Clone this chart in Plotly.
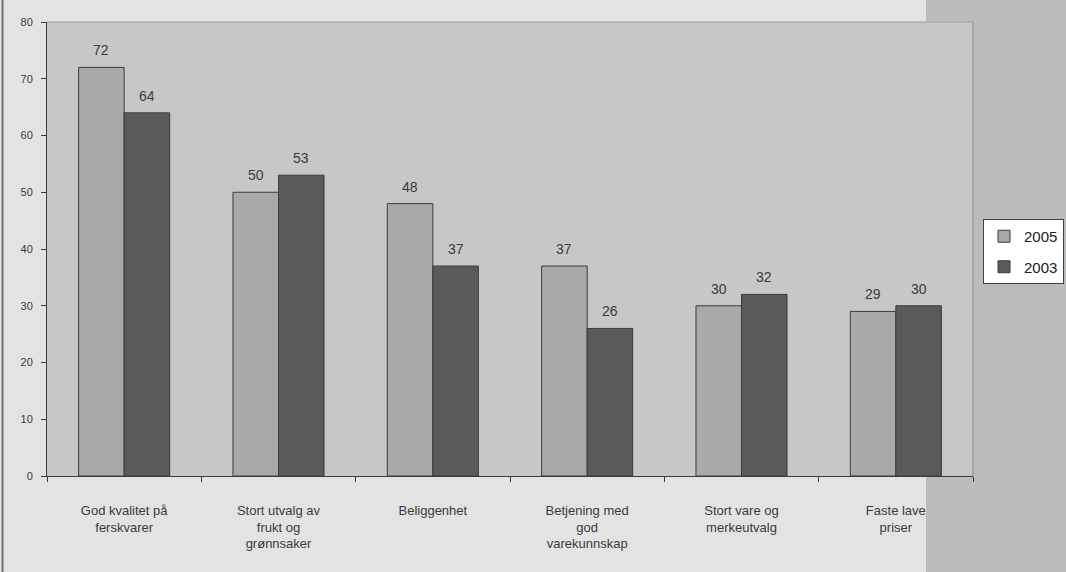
import plotly.graph_objects as go

categories = [
    "God kvalitet på<br>ferskvarer",
    "Stort utvalg av<br>frukt og<br>grønnsaker",
    "Beliggenhet",
    "Betjening med<br>god<br>varekunnskap",
    "Stort vare og<br>merkeutvalg",
    "Faste lave<br>priser",
]
values_2005 = [72, 50, 48, 37, 30, 29]
values_2003 = [64, 53, 37, 26, 32, 30]
series_names = ["2005", "2003"]
y_ticks = [0, 10, 20, 30, 40, 50, 60, 70, 80]

W, H = 1066, 572
L, R, T, B = 47, 93, 22, 96
pw, ph = W - L - R, H - T - B

fig = go.Figure()
fig.add_trace(go.Bar(
    x=categories, y=values_2005, name=series_names[0], legendgroup="a",
    marker=dict(color="#a9a9a9", line=dict(color="#3c3c3c", width=1)),
))
fig.add_trace(go.Bar(
    x=categories, y=values_2003, name=series_names[1], legendgroup="b",
    marker=dict(color="#5a5a5a", line=dict(color="#3c3c3c", width=1)),
))

annotations = []
for vals, shift in ((values_2005, -22.8), (values_2003, 22.8)):
    for c, v in zip(categories, vals):
        annotations.append(dict(
            x=c, y=v, text=str(v), showarrow=False, xref="x", yref="y",
            xanchor="center", yanchor="bottom", xshift=shift, yshift=7,
            font=dict(size=14, color="#3a3a3a"),
        ))

def px_x(p):
    return (p - L) / pw

def px_y(p):
    return (H - B - p) / ph

shapes = [
    dict(type="rect", xref="paper", yref="paper", x0=px_x(973), x1=px_x(W + 2),
         y0=px_y(H + 2), y1=px_y(-2), fillcolor="#bcbcbc", line=dict(width=0), layer="below"),
    dict(type="rect", xref="paper", yref="paper", x0=px_x(926), x1=px_x(974),
         y0=px_y(T), y1=px_y(-2), fillcolor="#bcbcbc", line=dict(width=0), layer="below"),
    dict(type="rect", xref="paper", yref="paper", x0=px_x(926), x1=px_x(974),
         y0=px_y(H + 2), y1=px_y(H - B + 1), fillcolor="#bcbcbc", line=dict(width=0), layer="below"),
    dict(type="line", xref="paper", yref="paper", x0=1, x1=1, y0=0, y1=1,
         line=dict(color="#8a8a8a", width=1)),
    dict(type="line", xref="paper", yref="paper", x0=0, x1=1, y0=1, y1=1,
         line=dict(color="#a0a0a0", width=1)),
    dict(type="line", xref="paper", yref="paper", x0=px_x(2.5), x1=px_x(2.5),
         y0=px_y(H + 2), y1=px_y(-2), line=dict(color="#707070", width=2)),
]

fig.update_layout(
    width=W, height=H,
    margin=dict(l=L, r=R, t=T, b=B, autoexpand=False),
    paper_bgcolor="#e3e3e3",
    plot_bgcolor="#c7c7c7",
    font=dict(family="Liberation Sans, Arial, sans-serif", color="#3a3a3a"),
    barmode="group",
    bargap=0.41,
    bargroupgap=0,
    showlegend=True,
    legend=dict(
        x=px_x(983), y=px_y(219), xanchor="left", yanchor="top",
        bgcolor="#ffffff", bordercolor="#404040", borderwidth=1,
        font=dict(size=15, color="#202020"), itemwidth=30,
        traceorder="grouped", tracegroupgap=8,
    ),
    shapes=shapes,
    annotations=annotations,
    xaxis=dict(
        showline=True, linecolor="#3a3a3a", linewidth=1,
        ticks="outside", ticklen=5, tickcolor="#3a3a3a", tickson="boundaries",
        tickfont=dict(size=13, color="#3a3a3a"),
        ticklabelstandoff=22,
        showgrid=False, zeroline=False,
    ),
    yaxis=dict(
        range=[0, 80], tickvals=y_ticks,
        showline=True, linecolor="#3a3a3a", linewidth=1,
        ticks="outside", ticklen=5, tickcolor="#3a3a3a",
        tickfont=dict(size=11, color="#3a3a3a"),
        ticklabelstandoff=6,
        showgrid=False, zeroline=False,
    ),
)

fig.write_html("out.html")
